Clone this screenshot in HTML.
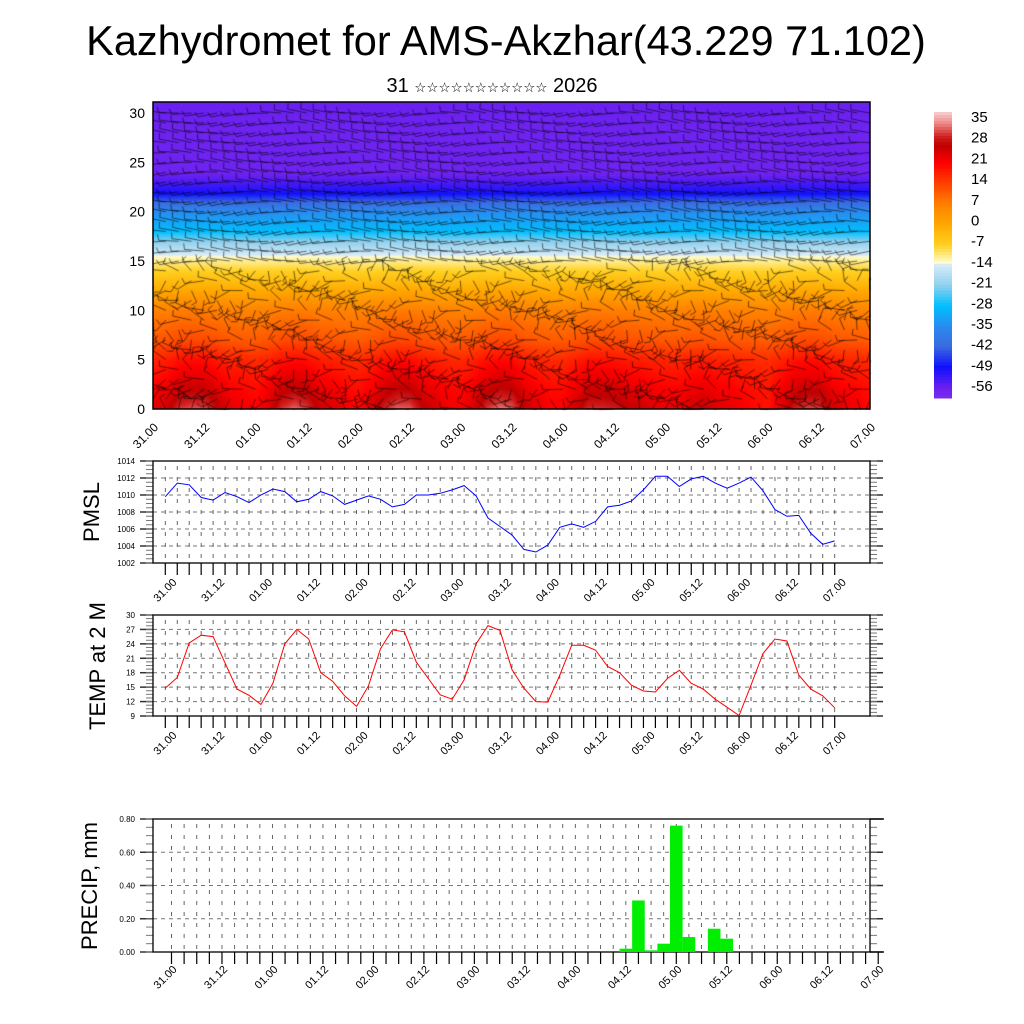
<!DOCTYPE html>
<html><head><meta charset="utf-8">
<style>
html,body{margin:0;padding:0;background:#fff;}
#wrap{position:relative;width:1024px;height:1024px;overflow:hidden;font-family:"Liberation Sans","DejaVu Sans",sans-serif;}
canvas,svg{position:absolute;left:0;top:0;}
</style></head>
<body>
<div id="wrap">
<canvas id="cv" width="1024" height="1024"></canvas>
<svg id="sv" width="1024" height="1024" xmlns="http://www.w3.org/2000/svg">
<text x="506" y="55" font-size="41.5" text-anchor="middle">Kazhydromet for AMS-Akzhar(43.229 71.102)</text>
<text x="492" y="92" font-size="20" text-anchor="middle">31 <tspan font-size="13.5">☆☆☆☆☆☆☆☆☆☆☆</tspan> 2026</text>
<text transform="translate(99,512) rotate(-90)" font-size="22" text-anchor="middle">PMSL</text>
<text transform="translate(105,666) rotate(-90)" font-size="22" text-anchor="middle">TEMP at 2 M</text>
<text transform="translate(97,886) rotate(-90)" font-size="22" text-anchor="middle">PRECIP, mm</text>
<g id="g"></g>
</svg>
</div>
<script>
const timeLabels=["31.00","31.12","01.00","01.12","02.00","02.12","03.00","03.12","04.00","04.12","05.00","05.12","06.00","06.12","07.00"];
const pmsl=[1009.8,1011.4,1011.2,1009.7,1009.4,1010.3,1009.8,1009.1,1010.0,1010.7,1010.4,1009.2,1009.5,1010.4,1009.9,1008.9,1009.4,1009.9,1009.5,1008.6,1008.9,1010.0,1010.0,1010.2,1010.6,1011.1,1009.9,1007.3,1006.3,1005.3,1003.6,1003.3,1004.1,1006.2,1006.6,1006.2,1006.9,1008.6,1008.8,1009.3,1010.6,1012.2,1012.2,1011.0,1011.9,1012.2,1011.4,1010.8,1011.4,1012.1,1010.5,1008.3,1007.5,1007.6,1005.5,1004.2,1004.6];
const temp2m=[14.8,17,24.2,25.8,25.5,20,14.6,13.3,11.4,15.8,24,27,25,18,16.2,13.2,11,15.3,23,26.9,26.5,20.2,16.8,13.4,12.5,16.5,24,27.8,26.8,18.6,14.8,12,11.9,17.5,23.7,23.7,22.7,19.3,18,15.4,14.2,14,16.8,18.5,15.8,14.6,12.5,10.8,9.1,15.4,22,25,24.6,17.5,14.6,13.2,10.7];
const precip=[0,0,0,0,0,0,0,0,0,0,0,0,0,0,0,0,0,0,0,0,0,0,0,0,0,0,0,0,0,0,0,0,0,0,0,0,0.02,0.31,0.01,0.05,0.76,0.09,0,0.14,0.08,0,0,0,0,0,0,0,0,0,0,0,0];
const profZ=[0,2,5,7,10,12,14,15.3,16,17,18,20,21,22,24,28,31];
const profT=[26,23,18,12,7,0,-7,-12,-16,-21,-28,-35,-42,-50,-57,-57,-56];
const cbLabels=[35,28,21,14,7,0,-7,-14,-21,-28,-35,-42,-49,-56];
const cmapV=[38,35,30,27,21,14,7,0,-7,-13,-13.9,-21,-28,-35,-42,-49,-56,-62];
const cmapC=["#f8c8c8","#f09090","#d02020","#c00000","#ff0000","#ff4000","#ff8000","#ffa800","#ffd020","#fffcc8","#d8ecf8","#90d0ee","#00c0ff","#2a8cf0","#3a6ae0","#1010ff","#6a20f0","#8a34f0"];

const NS="http://www.w3.org/2000/svg";
const G=document.getElementById('g');
function el(tag,attrs,parent){const e=document.createElementNS(NS,tag);for(const k in attrs)e.setAttribute(k,attrs[k]);(parent||G).appendChild(e);return e;}
function hex(c){return [parseInt(c.slice(1,3),16),parseInt(c.slice(3,5),16),parseInt(c.slice(5,7),16)];}
function cmap(v){
  if(v>=cmapV[0])return hex(cmapC[0]);
  for(let k=0;k<cmapV.length-1;k++){
    if(v<=cmapV[k]&&v>=cmapV[k+1]){const f=(cmapV[k]-v)/(cmapV[k]-cmapV[k+1]);const a=hex(cmapC[k]),b=hex(cmapC[k+1]);return [a[0]+(b[0]-a[0])*f,a[1]+(b[1]-a[1])*f,a[2]+(b[2]-a[2])*f];}
  }
  return hex(cmapC[cmapC.length-1]);
}
function interp(xs,ys,x){if(x<=xs[0])return ys[0];for(let k=0;k<xs.length-1;k++){if(x<=xs[k+1]){const f=(x-xs[k])/(xs[k+1]-xs[k]);return ys[k]+(ys[k+1]-ys[k])*f;}}return ys[ys.length-1];}
function t2at(fi){const i=Math.max(0,Math.min(55.999,fi));const a=Math.floor(i);return temp2m[a]+(temp2m[a+1]-temp2m[a])*(i-a);}

// ---- top cross-section ----
const TL=153,TR=870,TT=102,TB=409;
const txs=i=>TL+i*(TR-TL)/(temp2m.length-1);
const tzy=z=>TB-z*(TB-113)/30;
const cv=document.getElementById('cv').getContext('2d');
const img=cv.createImageData(TR-TL,TB-TT);
for(let py=TT;py<TB;py++){
  const z=(TB-py)/((TB-113)/30);
  for(let px=TL;px<TR;px++){
    const fi=(px-TL)/((TR-TL)/(temp2m.length-1));
    let T=interp(profZ,profT,z)+(t2at(fi)-18)*Math.exp(-z/4)*0.8;
    const c=cmap(T);const o=((py-TT)*(TR-TL)+(px-TL))*4;
    img.data[o]=c[0];img.data[o+1]=c[1];img.data[o+2]=c[2];img.data[o+3]=255;
  }
}
cv.putImageData(img,TL,TT);
// wind barbs (decorative texture)
cv.strokeStyle="rgba(0,0,0,0.7)";cv.lineWidth=0.8;
for(let i=0;i<temp2m.length;i++){
  for(let z=0;z<=30;z+=1){
    const x=txs(i),y=tzy(z);
    let ang;
    if(z>=15) ang=Math.PI+0.35*Math.sin(i*0.45+z*0.7);
    else ang=Math.PI+1.4*Math.sin(i*0.52+z*1.3)+0.6*Math.cos(i*0.31-z*0.4);
    const L=20;
    const x2=x+L*Math.cos(ang),y2=y+L*Math.sin(ang)*0.6;
    cv.beginPath();cv.moveTo(x,y);cv.lineTo(x2,y2);
    const fa=ang+Math.PI/2.4;
    cv.moveTo(x2,y2);cv.lineTo(x2+6*Math.cos(fa),y2+6*Math.sin(fa));
    cv.stroke();
  }
}
cv.clearRect(TR+1,TT-30,150,TB-TT+60);cv.clearRect(0,TT-30,TL,TB-TT+60);
cv.clearRect(TL-5,0,800,TT);cv.clearRect(TL-5,TB+1,800,30);
el('rect',{x:TL,y:TT,width:TR-TL,height:TB-TT,fill:'none',stroke:'#000','stroke-width':1.5,});
for(let z=0;z<=30;z+=5){
  const t=el('text',{x:TL-8,y:tzy(z)+5,'font-size':14,'text-anchor':'end'});
  
  
  t.textContent=z;
}
timeLabels.forEach((s,k)=>{
  const x=TL+k*(TR-TL)/(timeLabels.length-1);
  const t=el('text',{transform:`translate(${x+6},${TB+19}) rotate(-45)`,'font-size':12,'text-anchor':'end'});
  
  
  t.textContent=s;
});
// colorbar
const CBX=934,CBT=112,CBB=398;
for(let k=0;k<96;k++){
  const v=38-k*(38+60)/96;
  const c=cmap(v);
  const r=el('rect',{x:CBX,y:CBT+k*(CBB-CBT)/96,width:18,height:(CBB-CBT)/96+0.5,fill:`rgb(${c[0]|0},${c[1]|0},${c[2]|0})`});
  
  
}
cbLabels.forEach((v,k)=>{
  const t=el('text',{x:971,y:122+k*20.7,'font-size':15});
  
  
  t.textContent=v;
});

// ---- line panels ----
function panel(name,L,R,T,B,ymin,ymax,ticks,fmt,xOf,nT,lx0,ly0){
  const ys=v=>B-(v-ymin)*(B-T)/(ymax-ymin);
  const g=el('g',{});
  
  
  ticks.forEach(v=>{
    if(v>ymin&&v<ymax)el('line',{x1:L,x2:R,y1:ys(v),y2:ys(v),stroke:'#777','stroke-dasharray':'4,4','stroke-width':1},g);
    const t=el('text',{x:L-18,y:ys(v)+3,'font-size':8,'text-anchor':'end'},g);
    
    
    t.textContent=fmt(v);
    el('line',{x1:R,x2:R+13,y1:ys(v),y2:ys(v),stroke:'#333','stroke-width':1.5},g);
    el('line',{x1:L-13,x2:L,y1:ys(v),y2:ys(v),stroke:'#333','stroke-width':1.5},g);
  });
  const step=(ticks[1]-ticks[0])/4;
  for(let v=ymin;v<=ymax+1e-9;v+=step){
    el('line',{x1:R,x2:R+7,y1:ys(v),y2:ys(v),stroke:'#777','stroke-width':1},g);
    el('line',{x1:L-7,x2:L,y1:ys(v),y2:ys(v),stroke:'#777','stroke-width':1},g);
  }
  for(let i=0;i<nT;i++){
    const x=xOf(i);
    if(x>L&&x<R)el('line',{x1:x,x2:x,y1:T+5,y2:B,stroke:'#555','stroke-dasharray':'4,7','stroke-width':0.9},g);
    el('line',{x1:x,x2:x,y1:B,y2:B+12,stroke:'#000','stroke-width':1.2},g);
  }
  timeLabels.forEach((s,k)=>{
    const x=xOf(k*4);
    const t=el('text',{transform:`translate(${x+lx0},${B+ly0}) rotate(-45)`,'font-size':11,'text-anchor':'end'},g);
    
    
    t.textContent=s;
  });
  el('rect',{x:L,y:T,width:R-L,height:B-T,fill:'none',stroke:'#000','stroke-width':1.3},g);
  return ys;
}
const lx=i=>165.3+i*(834.7-165.3)/56;
const ysP=panel('pmsl',153,870,461,563,1002,1014,[1002,1004,1006,1008,1010,1012,1014],v=>v,lx,57,12,20);
let d='';pmsl.forEach((v,i)=>{d+=(i?'L':'M')+lx(i).toFixed(1)+','+ysP(v).toFixed(1);});
el('path',{d:d,fill:'none',stroke:'#0000ff','stroke-width':1,});
const ysT=panel('temp',153,870,615,716,9,30,[9,12,15,18,21,24,27,30],v=>v,lx,57,12,20);
d='';temp2m.forEach((v,i)=>{d+=(i?'L':'M')+lx(i).toFixed(1)+','+ysT(v).toFixed(1);});
el('path',{d:d,fill:'none',stroke:'#ff0000','stroke-width':1,});
const px=i=>171.5+i*12.62;
const ysR=panel('precip',153,870,819,952,0,0.8,[0,0.2,0.4,0.6,0.8],v=>v.toFixed(2),px,57,6,18);
precip.forEach((v,i)=>{
  if(v<=0)return;
  const b=el('rect',{x:px(i)-6.3,y:ysR(v),width:12.6,height:ysR(0)-ysR(v),fill:'#00ee00'});
  
  
});
el('line',{x1:870,x2:884,y1:819,y2:819,stroke:'#000','stroke-width':1.3});
el('line',{x1:870,x2:884,y1:952,y2:952,stroke:'#000','stroke-width':1.3});
</script>
</body></html>
